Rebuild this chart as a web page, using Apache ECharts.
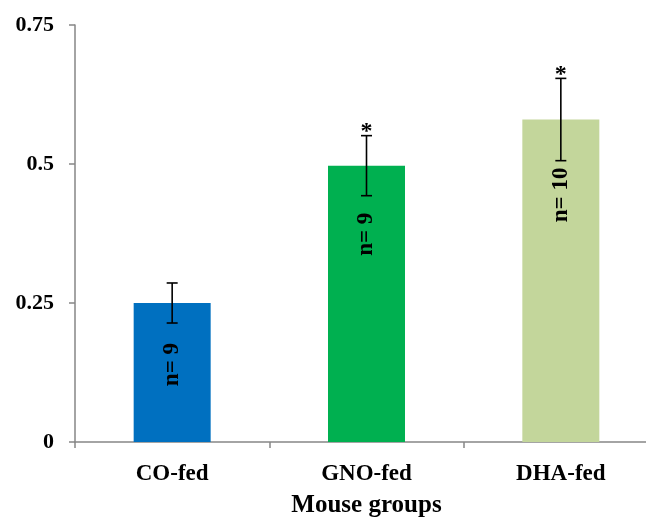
<!DOCTYPE html>
<html>
<head>
<meta charset="utf-8">
<script src="https://cdn.jsdelivr.net/npm/echarts@6/dist/echarts.min.js"></script>
<style>
html,body{margin:0;padding:0;background:#fff;}
#chart{width:646px;height:517px;}
</style>
</head>
<body>
<div id="chart"></div>
<script>
var categories = ['CO-fed', 'GNO-fed', 'DHA-fed'];
var means = [0.25, 0.497, 0.580];
var errors = [0.036, 0.054, 0.074];
var sampleSizes = ['n= 9', 'n= 9', 'n= 10'];
var significance = ['', '*', '*'];
var barColors = ['#0070C0', '#00B050', '#C3D69B'];
var yTicks = [0, 0.25, 0.5, 0.75];

var FONT = '"Liberation Serif", "Times New Roman", serif';
var labelDistances = [40, 47, 48];
var chart = echarts.init(document.getElementById('chart'));

var errData = categories.map(function (c, i) { return [i, means[i], errors[i]]; });

var option = {
  backgroundColor: '#ffffff',
  animation: false,
  grid: { left: 75, top: 25, width: 583, height: 417, containLabel: false, outerBoundsMode: 'none' },
  xAxis: {
    type: 'category',
    data: categories,
    axisLine: { lineStyle: { color: '#868686', width: 1.5 } },
    axisTick: { show: true, length: 6, lineStyle: { color: '#868686', width: 1.5 } },
    axisLabel: { color: '#000', fontFamily: FONT, fontWeight: 'bold', fontSize: 23, margin: 21 },
    name: 'Mouse groups',
    nameLocation: 'middle',
    nameGap: 51,
    nameTextStyle: { color: '#000', fontFamily: FONT, fontWeight: 'bold', fontSize: 25 }
  },
  yAxis: {
    type: 'value',
    min: 0,
    max: 0.75,
    interval: 0.25,
    splitLine: { show: false },
    axisLine: { show: true, lineStyle: { color: '#868686', width: 1.5 } },
    axisTick: { show: true, length: 6, lineStyle: { color: '#868686', width: 1.5 } },
    axisLabel: {
      color: '#000', fontFamily: FONT, fontWeight: 'bold', fontSize: 22, margin: 21,
      formatter: function (v) {
        for (var k = 0; k < yTicks.length; k++) { if (Math.abs(yTicks[k] - v) < 1e-9) return String(yTicks[k]); }
        return '';
      }
    }
  },
  series: [
    {
      type: 'bar',
      data: means.map(function (m, i) {
        return { value: m, itemStyle: { color: barColors[i] }, label: { distance: labelDistances[i] } };
      }),
      barWidth: 77,
      label: {
        show: true,
        position: 'insideTop',
        rotate: 90,
        align: 'right',
        verticalAlign: 'middle',
        color: '#000',
        fontFamily: FONT,
        fontWeight: 'bold',
        fontSize: 23,
        formatter: function (p) { return sampleSizes[p.dataIndex]; }
      }
    },
    {
      type: 'custom',
      data: errData,
      encode: { x: 0, y: 1 },
      z: 5,
      renderItem: function (params, api) {
        var x = api.value(0);
        var m = api.value(1);
        var e = api.value(2);
        var hi = api.coord([x, m + e]);
        var lo = api.coord([x, m - e]);
        var cap = 5.5;
        var style = { stroke: '#000', lineWidth: 1.6 };
        var children = [
          { type: 'line', shape: { x1: hi[0], y1: hi[1], x2: lo[0], y2: lo[1] }, style: style },
          { type: 'line', shape: { x1: hi[0] - cap, y1: hi[1], x2: hi[0] + cap, y2: hi[1] }, style: style },
          { type: 'line', shape: { x1: lo[0] - cap, y1: lo[1], x2: lo[0] + cap, y2: lo[1] }, style: style }
        ];
        var s = significance[params.dataIndex];
        if (s) {
          children.push({
            type: 'text',
            style: {
              text: s, x: hi[0], y: hi[1] + 8,
              align: 'center', verticalAlign: 'bottom',
              fill: '#000', font: 'bold 24px ' + FONT
            }
          });
        }
        return { type: 'group', children: children };
      }
    }
  ]
};
chart.setOption(option);
</script>
</body>
</html>
